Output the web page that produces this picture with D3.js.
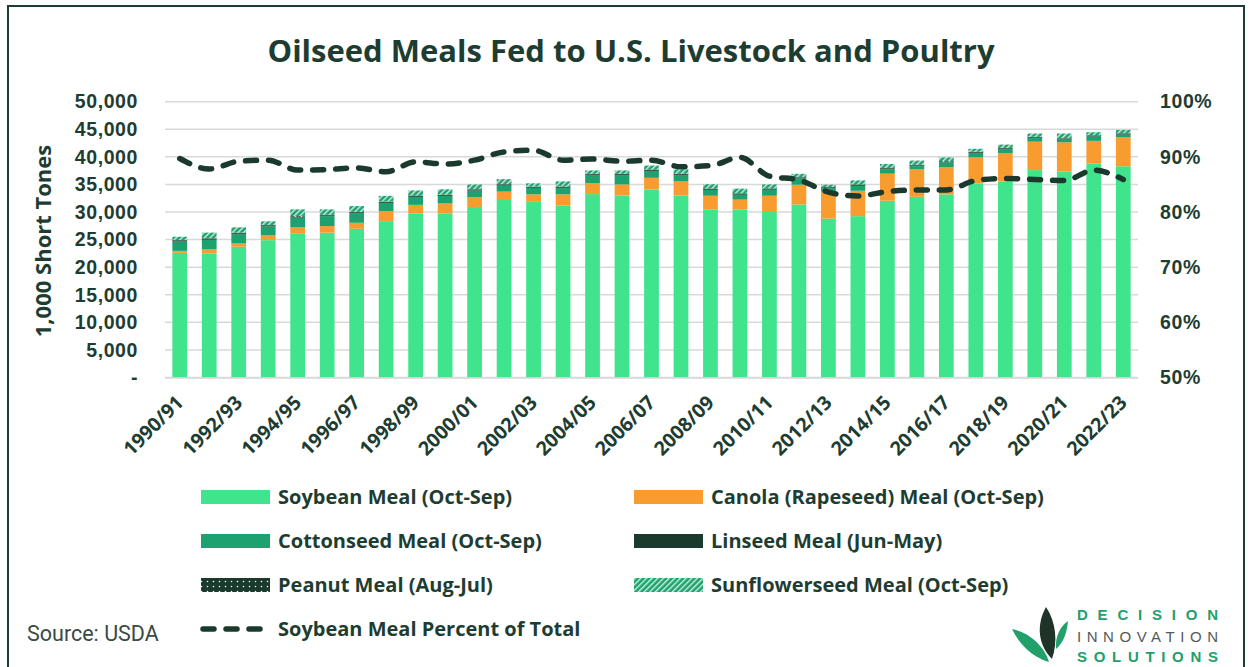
<!DOCTYPE html>
<html>
<head>
<meta charset="utf-8">
<script src="https://cdn.jsdelivr.net/npm/d3@7"></script>
<style>
  body { margin: 0; background: #fff; }
  svg text { fill: #1e3d32; }
</style>
</head>
<body>
<svg id="chart" width="1250" height="667"></svg>
<script>
// marketing years
var years = ["1990/91","1991/92","1992/93","1993/94","1994/95","1995/96","1996/97","1997/98","1998/99","1999/00",
  "2000/01","2001/02","2002/03","2003/04","2004/05","2005/06","2006/07","2007/08","2008/09","2009/10",
  "2010/11","2011/12","2012/13","2013/14","2014/15","2015/16","2016/17","2017/18","2018/19","2019/20",
  "2020/21","2021/22","2022/23"];

// 1,000 short tons
var soybean = [22600,22500,23700,24900,26050,26250,26950,28350,29750,29750,30900,32350,31850,31150,33250,33000,
  34100,33000,30450,30450,30000,31350,28800,29250,32050,32750,33200,35200,35500,37600,37350,38800,38300];
var canola = [360,730,600,850,1150,1200,1100,1800,1550,1800,1800,1350,1350,2050,2000,2000,2100,2550,2500,1800,
  2950,3600,4900,4600,4900,5000,4900,4700,5150,5150,5300,4100,5250];
var cottonseed = [1700,1750,1700,1650,1800,1800,1750,1500,1450,1350,1200,1100,1150,1200,1450,1700,1250,1150,1050,
  900,1100,1150,600,900,800,550,900,800,750,650,500,800,500];
var linseed = [150,160,150,150,160,150,150,150,150,150,140,140,140,140,140,150,150,150,140,140,130,130,140,140,
  140,140,140,130,130,130,130,130,130];
var peanut = [110,100,100,100,110,110,100,100,100,100,100,110,110,100,100,100,100,100,110,100,100,100,100,110,
  100,100,100,100,100,100,100,100,100];
var sunflower = [600,1030,970,660,1210,970,1030,1030,910,970,850,910,600,910,600,600,730,790,790,850,730,600,420,
  730,730,790,660,540,600,600,850,540,600];
// soybean meal share of total (%)
var soyPct = [89.7,87.8,89.2,89.4,87.6,87.7,88.0,87.3,89.1,88.7,89.4,90.9,91.2,89.4,89.6,89.2,89.4,88.2,88.4,89.9,
  86.5,85.8,83.6,82.9,83.7,84.0,84.0,85.7,86.1,85.9,85.7,87.6,85.9];

var leftTicks = [0,5000,10000,15000,20000,25000,30000,35000,40000,45000,50000];
var rightTicks = [0.5,0.6,0.7,0.8,0.9,1.0];

var series = [
  {key:"soybean", name:"Soybean Meal (Oct-Sep)", values:soybean, fill:"#40e48c"},
  {key:"canola", name:"Canola (Rapeseed) Meal (Oct-Sep)", values:canola, fill:"#f99c2f"},
  {key:"cottonseed", name:"Cottonseed Meal (Oct-Sep)", values:cottonseed, fill:"#1ea171"},
  {key:"linseed", name:"Linseed Meal (Jun-May)", values:linseed, fill:"#1b3a2e"},
  {key:"peanut", name:"Peanut Meal (Aug-Jul)", values:peanut, fill:"url(#dots)"},
  {key:"sunflower", name:"Sunflowerseed Meal (Oct-Sep)", values:sunflower, fill:"url(#hatch)"}
];

var dark = "#1e3d32";
var font = "'Open Sans', Lato, sans-serif";
var svg = d3.select("#chart");

// patterns
var defs = svg.append("defs");
var dots = defs.append("pattern").attr("id","dots").attr("patternUnits","userSpaceOnUse")
  .attr("width",6).attr("height",5);
dots.append("rect").attr("width",6).attr("height",5).attr("fill","#1b3a2e");
dots.append("circle").attr("cx",1.5).attr("cy",1.5).attr("r",0.8).attr("fill","#fff");
var hatch = defs.append("pattern").attr("id","hatch").attr("patternUnits","userSpaceOnUse")
  .attr("width",4).attr("height",4).attr("patternTransform","rotate(45)");
hatch.append("rect").attr("width",4).attr("height",4).attr("fill","#1ea171");
hatch.append("rect").attr("width",1.4).attr("height",4).attr("fill","#c9f2dd");

// frame
svg.append("rect").attr("x",8).attr("y",6).attr("width",1236).attr("height",668)
  .attr("fill","none").attr("stroke","#1e3d32").attr("stroke-width",2);

svg.append("text").attr("x",631).attr("y",62).attr("text-anchor","middle")
  .style("font-family",font).style("font-weight","bold").style("font-size","31px")
  .text("Oilseed Meals Fed to U.S. Livestock and Poultry");

var plot = {l:165, r:1138, t:101.7, b:377.5};

var x = d3.scaleBand().domain(years).range([plot.l, plot.r]).paddingInner(0.5).paddingOuter(0.25);
var y = d3.scaleLinear().domain([0,50000]).range([plot.b, plot.t]);
var y2 = d3.scaleLinear().domain([0.5,1]).range([plot.b, plot.t]);

// gridlines
svg.append("g").selectAll("line").data(leftTicks).join("line")
  .attr("x1",plot.l).attr("x2",plot.r)
  .attr("y1",function(d){ return y(d); }).attr("y2",function(d){ return y(d); })
  .attr("stroke","#d9d9d9").attr("stroke-width",1.5);

// stacked bars
var rows = years.map(function(yr,i){
  var o = {year:yr};
  series.forEach(function(s){ o[s.key] = s.values[i]; });
  return o;
});
var stack = d3.stack().keys(series.map(function(s){ return s.key; }));
var layers = stack(rows);

svg.append("g").selectAll("g").data(layers).join("g")
  .attr("fill",function(d,i){ return series[i].fill; })
  .selectAll("rect").data(function(d){ return d; }).join("rect")
  .attr("x",function(d){ return x(d.data.year); })
  .attr("width",x.bandwidth())
  .attr("y",function(d){ return y(d[1]); })
  .attr("height",function(d){ return y(d[0]) - y(d[1]); });

// left axis
var axL = d3.axisLeft(y).tickValues(leftTicks).tickSize(0).tickPadding(0)
  .tickFormat(function(d){ return d === 0 ? "-" : d3.format(",")(d); });
var gL = svg.append("g").attr("transform","translate(138,0)").call(axL);
gL.select(".domain").remove();
gL.selectAll("text").style("font-family","'Liberation Sans', Arial, sans-serif")
  .style("font-weight","bold").style("font-size","19.5px").style("letter-spacing","0.6px").attr("fill",dark);

// right axis
var axR = d3.axisRight(y2).tickValues(rightTicks).tickSize(0).tickPadding(0).tickFormat(d3.format(".0%"));
var gR = svg.append("g").attr("transform","translate(1160,0)").call(axR);
gR.select(".domain").remove();
gR.selectAll("text").style("font-family","'Liberation Sans', Arial, sans-serif")
  .style("font-weight","bold").style("font-size","19.5px").style("letter-spacing","0.6px").attr("fill",dark);

// x axis
svg.append("line").attr("x1",plot.l).attr("x2",plot.r).attr("y1",plot.b+0.5).attr("y2",plot.b+0.5)
  .attr("stroke","#d9d9d9").attr("stroke-width",1.5);
svg.append("g").selectAll("text").data(years.filter(function(d,i){ return i % 2 === 0; })).join("text")
  .attr("transform",function(d){ return "translate(" + (x(d) + x.bandwidth()/2) + ",399) rotate(-45)"; })
  .attr("text-anchor","end").attr("dy","0.35em")
  .style("font-family",font).style("font-weight","bold").style("font-size","19.5px")
  .text(function(d){ return d; });

svg.append("text").attr("transform","translate(51,241) rotate(-90)").attr("text-anchor","middle")
  .style("font-family",font).style("font-weight","bold").style("font-size","22px")
  .text("1,000 Short Tones");

// soybean share line
var line = d3.line()
  .x(function(d,i){ return x(years[i]) + x.bandwidth()/2; })
  .y(function(d){ return y2(d/100); })
  .curve(d3.curveMonotoneX);
svg.append("path").datum(soyPct).attr("d",line).attr("fill","none")
  .attr("stroke","#1b3a2e").attr("stroke-width",5.5).attr("stroke-linecap","round")
  .attr("stroke-dasharray","11,12");

// legend
var legendItems = [
  {s:series[0], lx:200, ly:497}, {s:series[1], lx:633, ly:497},
  {s:series[2], lx:200, ly:541}, {s:series[3], lx:633, ly:541},
  {s:series[4], lx:200, ly:585}, {s:series[5], lx:633, ly:585}
];
var lg = svg.append("g").selectAll("g").data(legendItems).join("g")
  .attr("transform",function(d){ return "translate(" + d.lx + "," + d.ly + ")"; });
lg.append("rect").attr("x",1).attr("y",-7).attr("width",69).attr("height",14)
  .attr("fill",function(d){ return d.s.fill; });
lg.append("text").attr("x",78).attr("dy","0.35em")
  .style("font-family",font).style("font-weight","bold").style("font-size","20px")
  .text(function(d){ return d.s.name; });

var ll = svg.append("g").attr("transform","translate(200,629)");
ll.append("line").attr("x1",3).attr("x2",70).attr("stroke","#1b3a2e").attr("stroke-width",5.5)
  .attr("stroke-linecap","round").attr("stroke-dasharray","11,12");
ll.append("text").attr("x",78).attr("dy","0.35em")
  .style("font-family",font).style("font-weight","bold").style("font-size","20px")
  .text("Soybean Meal Percent of Total");

svg.append("text").attr("x",27).attr("y",641)
  .style("font-family","Roboto, sans-serif").style("font-size","21.5px").style("fill","#3a4a44")
  .text("Source: USDA");

// logo
var logo = svg.append("g");
logo.append("path").attr("d","M1046,607 C1036,625 1038,645 1052,659 C1058,642 1056,622 1046,607 Z").attr("fill","#1f3328");
logo.append("path").attr("d","M1012,629 C1028,632 1044,645 1049,662 C1034,658 1020,646 1012,629 Z").attr("fill","#21a06c");
logo.append("path").attr("d","M1068,621 C1058,628 1055,640 1056,649 C1064,642 1067,632 1068,621 Z").attr("fill","#21a06c");
logo.append("text").attr("x",1077).attr("y",620).attr("textLength",141).attr("lengthAdjust","spacing")
  .style("font-family","'Liberation Sans', Arial, sans-serif").style("font-weight","bold").style("font-size","15px")
  .style("fill","#21a06c").text("DECISION");
logo.append("text").attr("x",1077).attr("y",642).attr("textLength",141).attr("lengthAdjust","spacing")
  .style("font-family","'Liberation Sans', Arial, sans-serif").style("font-size","15px")
  .style("fill","#555a58").text("INNOVATION");
logo.append("text").attr("x",1077).attr("y",662).attr("textLength",141).attr("lengthAdjust","spacing")
  .style("font-family","'Liberation Sans', Arial, sans-serif").style("font-weight","bold").style("font-size","15px")
  .style("fill","#21a06c").text("SOLUTIONS");
</script>
</body>
</html>
